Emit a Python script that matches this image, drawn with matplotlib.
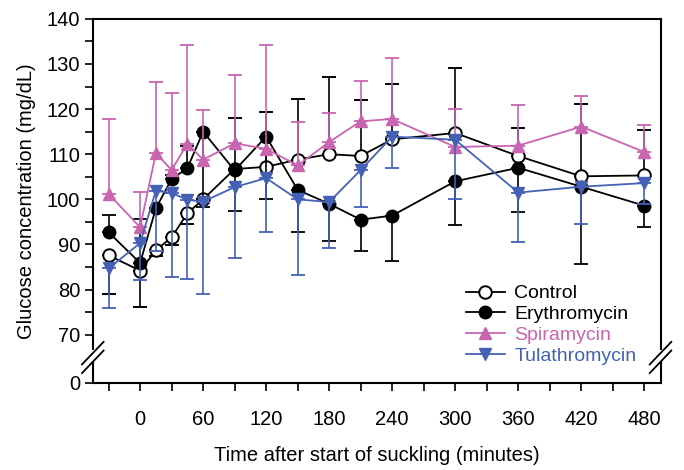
import numpy as np
import matplotlib.pyplot as plt
from matplotlib.lines import Line2D

plt.rcParams['font.family'] = ['Liberation Sans', 'DejaVu Sans']
plt.rcParams['font.size'] = 14.5

# time after start of suckling (min)
time = [-30, 0, 15, 30, 45, 60, 90, 120, 150, 180, 210, 240, 300, 360, 420, 480]

control = [87.6, 84.2, 88.7, 91.6, 96.9, 100.0, 106.7, 107.2, 108.8, 110.0, 109.6, 113.3, 114.7, 109.6, 105.1, 105.3]
control_up = [0, 0, 0, 0, 0, 0, 11.4, 12.2, 13.4, 17.2, 12.5, 12.2, 14.4, 6.1, 16.1, 10.1]
control_lo = [8.5, 8.0, 1.2, 1.8, 2.3, 0, 0, 0, 0, 0, 0, 0, 0, 0, 0, 0]

erythro = [92.7, 85.9, 98.0, 104.5, 106.9, 115.0, 106.4, 113.9, 102.1, 99.0, 95.5, 96.4, 104.0, 107.0, 102.8, 98.6]
erythro_up = [3.9, 9.7, 0, 1.0, 5.0, 0, 0, 0, 0, 0, 0, 0, 0, 0, 0, 0]
erythro_lo = [0, 0, 0, 0, 0, 16.7, 9.0, 13.9, 9.4, 8.2, 6.9, 10.0, 9.6, 9.8, 17.1, 4.8]

spira = [101.2, 93.8, 110.2, 106.5, 112.3, 108.8, 112.4, 111.2, 107.5, 112.7, 117.3, 117.8, 111.6, 111.9, 116.1, 110.5]
spira_up = [16.5, 7.9, 15.8, 17.0, 21.9, 11.1, 15.2, 23.0, 9.7, 6.4, 8.9, 13.6, 8.5, 8.9, 6.9, 5.9]

tula = [84.7, 90.3, 101.9, 101.4, 99.9, 99.5, 102.7, 104.7, 100.0, 99.4, 106.5, 113.9, 113.2, 101.5, 102.8, 103.6]
tula_lo = [8.8, 8.1, 13.4, 18.5, 17.6, 20.4, 15.6, 12.0, 16.7, 10.2, 8.2, 6.9, 13.1, 11.0, 8.3, 4.6]

y_ticks = [70, 80, 90, 100, 110, 120, 130, 140]
x_ticks = [0, 60, 120, 180, 240, 300, 360, 420, 480]

PINK = '#c965b0'
BLUE = '#4461b6'
Y0 = 59.4  # position on the axis where the broken "0" sits

fig = plt.figure(figsize=(6.84, 4.70), dpi=100)
ax = fig.add_axes([0.1365, 0.186, 0.830, 0.774])

zeros = np.zeros(len(time))
ax.errorbar(time, control, yerr=[control_lo, control_up], color='black', lw=1.3,
            marker='o', ms=9, mfc='white', mec='black', mew=1.4,
            capsize=5, capthick=1.3, elinewidth=1.2, zorder=3)
ax.errorbar(time, erythro, yerr=[erythro_lo, erythro_up], color='black', lw=1.3,
            marker='o', ms=9, mfc='black', mec='black',
            capsize=5, capthick=1.3, elinewidth=1.2, zorder=4)
ax.errorbar(time, spira, yerr=[zeros, spira_up], color=PINK, lw=1.3,
            marker='^', ms=8, mfc=PINK, mec=PINK,
            capsize=5, capthick=1.3, elinewidth=1.2, zorder=5)
ax.errorbar(time, tula, yerr=[tula_lo, zeros], color=BLUE, lw=1.3,
            marker='v', ms=8, mfc=BLUE, mec=BLUE,
            capsize=5, capthick=1.3, elinewidth=1.2, zorder=6)

ax.set_xlim(-44.5, 496)
ax.set_ylim(Y0, 140)
ax.set_xticks(np.arange(-30, 481, 30), minor=True)
ax.set_xticks(x_ticks)
ax.set_yticks([Y0] + y_ticks)
ax.set_yticklabels(['0'] + [str(v) for v in y_ticks])
ax.set_yticks(np.arange(75, 140, 10), minor=True)
ax.tick_params(which='both', direction='out', width=1.2, length=6)
ax.tick_params(axis='x', pad=14)
for s in ax.spines.values():
    s.set_linewidth(1.5)

ax.set_xlabel('Time after start of suckling (minutes)', labelpad=12)
ax.set_ylabel('Glucose concentration (mg/dL)', labelpad=8)

# axis break marks
for xa in (0.0, 1.0):
    ax.plot([xa, xa], [0.065, 0.085], transform=ax.transAxes, color='white', lw=3,
            clip_on=False, zorder=10)
    for yc in (0.058, 0.082):
        ax.plot([xa - 0.02, xa + 0.018], [yc - 0.032, yc + 0.03], transform=ax.transAxes,
                color='black', lw=1.3, clip_on=False, zorder=11)

handles = [
    Line2D([], [], color='black', lw=1.3, marker='o', ms=9, mfc='white', mec='black', mew=1.4),
    Line2D([], [], color='black', lw=1.3, marker='o', ms=9, mfc='black'),
    Line2D([], [], color=PINK, lw=1.3, marker='^', ms=8),
    Line2D([], [], color=BLUE, lw=1.3, marker='v', ms=8),
]
labels = ['Control', 'Erythromycin', 'Spiramycin', 'Tulathromycin']
ax.legend(handles, labels, loc='lower left', bbox_to_anchor=(0.625, 0.0), frameon=False,
          fontsize=14, handlelength=2.0, handletextpad=0.5, labelspacing=0.17,
          labelcolor=['black', 'black', PINK, BLUE])

fig.savefig('out.png', dpi=100)
